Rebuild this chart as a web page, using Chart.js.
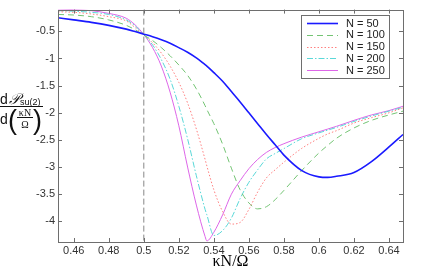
<!DOCTYPE html>
<html>
<head>
<meta charset="utf-8">
<script src="https://cdn.jsdelivr.net/npm/chart.js@4.4.1/dist/chart.umd.min.js"></script>
<style>
html, body { margin: 0; padding: 0; background: #fff; }
#wrap { width: 437px; height: 273px; position: relative; }
</style>
</head>
<body>
<div id="wrap"><canvas id="myChart"></canvas></div>
<script>
// kN/Omega samples
const kappa = [0.451, 0.46, 0.47, 0.48, 0.49, 0.495, 0.5, 0.505, 0.51, 0.515, 0.52, 0.525, 0.53, 0.535, 0.536, 0.54,
               0.545, 0.55, 0.555, 0.56, 0.565, 0.57, 0.575, 0.58, 0.59, 0.6, 0.605, 0.61, 0.62, 0.63, 0.64, 0.648];

const n50  = [-0.25, -0.29, -0.335, -0.39, -0.46, -0.505, -0.552, -0.60, -0.655, -0.72, -0.80, -0.885, -0.99, -1.115, -1.14, -1.26,
              -1.42, -1.61, -1.80, -2.00, -2.20, -2.40, -2.59, -2.78, -3.06, -3.18, -3.19, -3.17, -3.10, -2.90, -2.63, -2.40];
const n100 = [-0.19, -0.20, -0.23, -0.29, -0.39, -0.47, -0.57, -0.67, -0.80, -0.95, -1.12, -1.31, -1.56, -1.87, -1.94, -2.20,
              -2.58, -3.02, -3.42, -3.66, -3.77, -3.73, -3.60, -3.43, -3.07, -2.74, -2.60, -2.47, -2.28, -2.14, -2.04, -1.97];
const n150 = [-0.14, -0.15, -0.18, -0.23, -0.31, -0.43, -0.565, -0.71, -0.90, -1.14, -1.44, -1.82, -2.30, -2.86, -2.98, -3.42,
              -3.82, -4.05, -4.02, -3.78, -3.46, -3.20, -3.05, -2.91, -2.66, -2.47, -2.39, -2.33, -2.19, -2.09, -2.00, -1.91];
const n200 = [-0.12, -0.13, -0.15, -0.19, -0.29, -0.40, -0.56, -0.75, -1.02, -1.38, -1.88, -2.48, -3.16, -3.78, -3.88, -4.26,
              -4.17, -3.94, -3.58, -3.28, -3.05, -2.85, -2.75, -2.66, -2.48, -2.37, -2.32, -2.27, -2.16, -2.06, -1.97, -1.90];
const n250 = [-0.09, -0.10, -0.12, -0.17, -0.26, -0.38, -0.56, -0.80, -1.14, -1.62, -2.24, -3.00, -3.70, -4.28, -4.36, -4.20,
              -3.88, -3.50, -3.25, -3.03, -2.86, -2.73, -2.64, -2.57, -2.45, -2.35, -2.30, -2.25, -2.14, -2.04, -1.96, -1.88];

const seriesNames = ["N = 50", "N = 100", "N = 150", "N = 200", "N = 250"];
const xTicks = [0.46, 0.48, 0.5, 0.52, 0.54, 0.56, 0.58, 0.6, 0.62, 0.64];
const yTicks = [-0.5, -1, -1.5, -2, -2.5, -3, -3.5, -4];
const xRange = [0.451, 0.648];
const yRange = [-4.38, -0.1];
const markX = 0.5;

const styles = [
    {color: "#1a1aff", width: 1.6, dash: []},
    {color: "#74c474", width: 1, dash: [6, 4]},
    {color: "#ff7f7f", width: 1, dash: [1.5, 2]},
    {color: "#5ad8d8", width: 1, dash: [6, 2, 1.5, 2]},
    {color: "#dd66e8", width: 1, dash: []}
];

const values = [n50, n100, n150, n200, n250];
const datasets = values.map((v, i) => ({
    label: seriesNames[i],
    data: kappa.map((k, j) => ({x: k, y: v[j]})),
    borderColor: styles[i].color,
    borderWidth: styles[i].width,
    borderDash: styles[i].dash,
    pointRadius: 0,
    cubicInterpolationMode: "monotone",
    fill: false
}));
datasets.unshift({
    label: "",
    data: [{x: markX, y: yRange[1]}, {x: markX, y: yRange[0]}],
    borderColor: "#888",
    borderWidth: 1,
    borderDash: [6, 3],
    pointRadius: 0
});

const axisColor = "#6e6e6e";

const decorations = {
    id: "decorations",
    afterDatasetsDraw(chart) {
        const {ctx, chartArea: a, scales} = chart;
        ctx.save();
        // box and inner ticks
        ctx.strokeStyle = axisColor;
        ctx.lineWidth = 1;
        ctx.setLineDash([]);
        ctx.strokeRect(Math.round(a.left) + 0.5, Math.round(a.top) + 0.5,
                       Math.round(a.right - a.left), Math.round(a.bottom - a.top));
        ctx.beginPath();
        xTicks.forEach(v => {
            const px = Math.round(scales.x.getPixelForValue(v)) + 0.5;
            ctx.moveTo(px, a.bottom); ctx.lineTo(px, a.bottom - 4);
            ctx.moveTo(px, a.top); ctx.lineTo(px, a.top + 4);
        });
        yTicks.forEach(v => {
            const py = Math.round(scales.y.getPixelForValue(v)) + 0.5;
            ctx.moveTo(a.left, py); ctx.lineTo(a.left + 4, py);
            ctx.moveTo(a.right, py); ctx.lineTo(a.right - 4, py);
        });
        ctx.stroke();

        // legend
        const lx = 301, ly = 15, lw = 88, lh = 63;
        ctx.fillStyle = "#fff";
        ctx.fillRect(lx, ly, lw, lh);
        ctx.strokeStyle = axisColor;
        ctx.strokeRect(lx + 0.5, ly + 0.5, lw, lh);
        ctx.font = "11px 'Liberation Sans', Arial, sans-serif";
        ctx.textBaseline = "middle";
        ctx.textAlign = "left";
        seriesNames.forEach((name, i) => {
            const y = ly + 8 + i * 11.8;
            ctx.strokeStyle = styles[i].color;
            ctx.lineWidth = styles[i].width;
            ctx.setLineDash(styles[i].dash);
            ctx.beginPath();
            ctx.moveTo(lx + 6, Math.round(y) + 0.5);
            ctx.lineTo(lx + 37, Math.round(y) + 0.5);
            ctx.stroke();
            ctx.fillStyle = "#222";
            ctx.fillText(name, lx + 45, y + 0.5);
        });
        ctx.setLineDash([]);

        // y axis label: dP_su(2) / d(kN/Omega)
        ctx.fillStyle = "#111";
        ctx.strokeStyle = "#111";
        ctx.lineWidth = 1;
        ctx.textBaseline = "alphabetic";
        ctx.font = "14px 'Liberation Sans', Arial, sans-serif";
        ctx.fillText("d", 0, 103.5);
        ctx.font = "italic 15px 'DejaVu Serif', 'Liberation Serif', serif";
        ctx.fillText("\u{1D4AB}", 9, 103.5);
        ctx.font = "9px 'Liberation Sans', Arial, sans-serif";
        ctx.fillText("su(2)", 20, 105);
        ctx.beginPath();
        ctx.moveTo(0, 106.5); ctx.lineTo(43, 106.5);
        ctx.stroke();
        ctx.font = "14px 'Liberation Sans', Arial, sans-serif";
        ctx.fillText("d", 0, 124);
        ctx.font = "27px 'Liberation Sans', Arial, sans-serif";
        ctx.fillText("(", 8, 129);
        ctx.fillText(")", 33, 129);
        ctx.font = "10px 'Liberation Serif', serif";
        ctx.textAlign = "center";
        ctx.fillText("\u03BAN", 25, 116);
        ctx.beginPath();
        ctx.moveTo(17, 117.5); ctx.lineTo(33, 117.5);
        ctx.stroke();
        ctx.fillText("\u03A9", 25, 128);
        ctx.restore();
    }
};

window.onload = () => {
    const ctx = document.getElementById("myChart").getContext("2d");
    new Chart(ctx, {
        type: "line",
        data: {datasets},
        options: {
            responsive: true,
            maintainAspectRatio: false,
            animation: false,
            devicePixelRatio: 1,
            layout: {padding: {left: 0, right: 34, top: 3, bottom: 0}},
            plugins: {
                legend: {display: false},
                tooltip: {enabled: false}
            },
            scales: {
                x: {
                    type: "linear",
                    min: xRange[0],
                    max: xRange[1],
                    afterBuildTicks: s => { s.ticks = xTicks.map(v => ({value: v})); },
                    afterFit: s => { s.height = 31; },
                    grid: {display: false, drawTicks: false},
                    border: {display: false},
                    ticks: {
                        padding: 2,
                        color: "#333",
                        font: {family: "'Liberation Sans', Arial, sans-serif", size: 11},
                        callback: v => String(v)
                    },
                    title: {
                        display: true,
                        text: "\u03BAN/\u03A9",
                        color: "#000",
                        font: {family: "'Liberation Serif', 'Times New Roman', serif", size: 16},
                        padding: {top: 0, bottom: 2}
                    }
                },
                y: {
                    min: yRange[0],
                    max: yRange[1],
                    afterBuildTicks: s => { s.ticks = yTicks.map(v => ({value: v})); },
                    afterFit: s => { s.width = 58; },
                    grid: {display: false, drawTicks: false},
                    border: {display: false},
                    ticks: {
                        padding: 3,
                        color: "#333",
                        font: {family: "'Liberation Sans', Arial, sans-serif", size: 11},
                        callback: v => String(v)
                    }
                }
            }
        },
        plugins: [decorations]
    });
};
</script>
</body>
</html>
